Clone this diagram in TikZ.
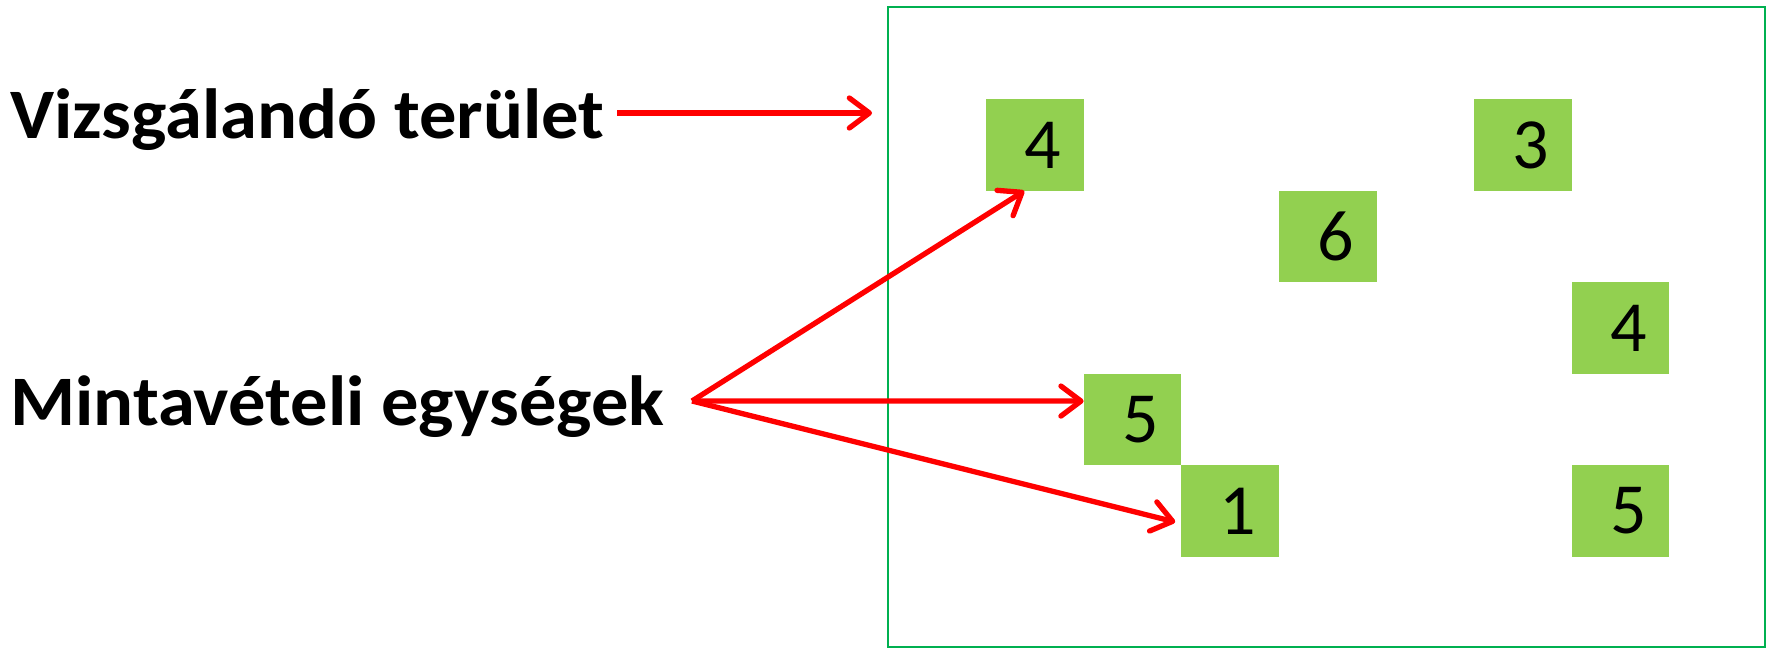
\documentclass[tikz,border=0pt]{standalone}
\usepackage{fontspec}
\setmainfont{Carlito}
\usetikzlibrary{arrows.meta,calc}
\definecolor{framegreen}{HTML}{00B050}
\definecolor{boxgreen}{HTML}{92D050}
\definecolor{arrowred}{HTML}{FF0000}
\begin{document}
\begin{tikzpicture}[x=1pt,y=-1pt,
  cell/.style={fill=boxgreen, draw=none, inner sep=0pt, anchor=north west,
    minimum width=97.6pt, minimum height=91.5pt,
    font=\fontsize{72}{80}\selectfont},
  biglabel/.style={anchor=base west, inner sep=0pt,
    font=\fontsize{71}{85}\selectfont\bfseries},
  redarrow/.style={draw=arrowred, line width=5.3pt,
    -{Straight Barb[length=20pt,width=30pt,line width=5.3pt,round]}}]
\useasboundingbox (0,0) rectangle (1767,648);
% area frame
\draw[framegreen, line width=2pt] (888,7) rectangle (1765,647);
% sampling units
\node[cell] (b4a) at (986.0,99.0)  {\hspace{16pt}4};
\node[cell] (b3)  at (1474.0,99.0) {\hspace{16pt}3};
\node[cell] (b6)  at (1278.8,190.5) {\hspace{16pt}6};
\node[cell] (b4b) at (1571.6,282.0) {\hspace{16pt}4};
\node[cell] (b5a) at (1083.6,373.5) {\hspace{16pt}5};
\node[cell] (b1)  at (1181.2,465.0) {\hspace{16pt}1};
\node[cell] (b5b) at (1571.6,465.0) {\hspace{16pt}5};
% labels
\node[biglabel] (lab1) at (10,138) {\scalebox{1.05}[1]{Vizsgálandó terület}};
\node[biglabel] (lab2) at (10,425) {\scalebox{1.05}[1]{Mintavételi egységek}};
% connector points
\coordinate (s1) at (617,113);
\coordinate (e1) at (872,113);
\coordinate (src) at (692,401);
\coordinate (t4) at ($(b4a.south west)!0.39!(b4a.south east)$);
\coordinate (t5) at ($(b5a.north west)!0.3!(b5a.south west)$);
\coordinate (t1) at ($(b1.north west)!0.62!(b1.south west)+(-6,0)$);
% arrows
\draw[redarrow] (s1) -- (e1);
\draw[redarrow] (src) -- (t4);
\draw[redarrow] (src) -- (t5);
\draw[redarrow] (src) -- (t1);
\end{tikzpicture}
\end{document}
